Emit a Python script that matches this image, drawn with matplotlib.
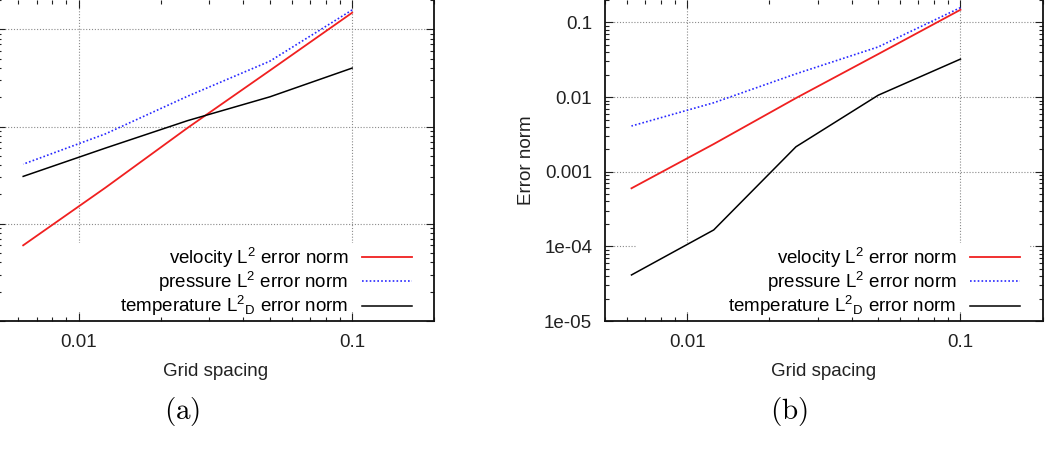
import numpy as np
import matplotlib
matplotlib.use('Agg')
import matplotlib.pyplot as plt
from matplotlib.ticker import FixedLocator, FixedFormatter, LogLocator, NullFormatter
from matplotlib.patches import Rectangle

# grid spacing h and the error norms
grid_spacing = [0.1, 0.05, 0.025, 0.0125, 0.00625]
velocity_err = [0.148, 0.0377, 0.0097, 0.00235, 0.0006]
pressure_err = [0.158, 0.047, 0.0205, 0.0084, 0.0041]
temperature_err_a = [0.0399, 0.0202, 0.0115, 0.0060, 0.00307]
temperature_err_b = [0.0323, 0.0106, 0.00216, 0.000166, 4.14e-5]

x_ticks = [0.01, 0.1]
x_labels = ['0.01', '0.1']
y_ticks_a = [1e-4, 1e-3, 1e-2, 0.1]
y_ticks_b = [1e-5, 1e-4, 1e-3, 1e-2, 0.1]
y_labels_b = ['1e-05', '1e-04', '0.001', '0.01', '0.1']

legend_labels = ['velocity L$^{2}$ error norm',
                 'pressure L$^{2}$ error norm',
                 'temperature L$^{2}{}_{D}$ error norm']

plt.rcParams['font.family'] = ['Liberation Sans', 'DejaVu Sans']
plt.rcParams['mathtext.default'] = 'regular'
FS = 13.5

W, H = 1049, 455
fig = plt.figure(figsize=(W / 100, H / 100), dpi=100)
ax_w = 437.7 / W
ax_h = 321 / H
ax_b = (H - 321) / H
ax_a = fig.add_axes([-3.3 / W, ax_b, ax_w, ax_h])
ax_bb = fig.add_axes([605 / W, ax_b, ax_w, ax_h])


def setup(ax, temp, yticks, ylabels, ylo):
    ax.set_xscale('log')
    ax.set_yscale('log')
    ax.plot(grid_spacing, velocity_err, color='#f02020', lw=1.3, label=legend_labels[0])
    ax.plot(grid_spacing, pressure_err, color='#2828ff', lw=1.2,
            linestyle=(0, (1, 1.3)), label=legend_labels[1])
    ax.plot(grid_spacing, temp, color='black', lw=1.1, label=legend_labels[2])
    ax.set_xlim(0.005, 0.2)
    ax.set_ylim(ylo, 0.2)

    ax.xaxis.set_major_locator(FixedLocator(x_ticks))
    ax.xaxis.set_major_formatter(FixedFormatter(x_labels))
    ax.yaxis.set_major_locator(FixedLocator(yticks))
    if ylabels is None:
        ax.yaxis.set_major_formatter(NullFormatter())
    else:
        ax.yaxis.set_major_formatter(FixedFormatter(ylabels))
    for axis in (ax.xaxis, ax.yaxis):
        axis.set_minor_locator(LogLocator(base=10, subs=np.arange(2, 10)))
        axis.set_minor_formatter(NullFormatter())

    ax.tick_params(which='both', direction='in', top=True, right=True,
                   width=0.8, colors='#202020', labelcolor='#222222', labelsize=FS)
    ax.tick_params(which='major', length=6)
    ax.tick_params(which='minor', length=3.2)
    ax.tick_params(axis='x', which='major', pad=9.3)
    ax.tick_params(axis='y', which='major', pad=9.2)
    ax.grid(True, which='major', color='#8a8a8a', lw=0.8, linestyle=(0, (1, 1.6)))
    for s in ax.spines.values():
        s.set_linewidth(1.3)
        s.set_color('#111111')
    ax.spines['top'].set_visible(False)

    ax.set_xlabel('Grid spacing', fontsize=FS, color='#222222')
    ax.xaxis.set_label_coords(0.5, -0.13)
    if ylabels is not None:
        ax.set_ylabel('Error norm', fontsize=FS, color='#222222')
        ax.yaxis.set_label_coords(-0.16, 0.5)

    # opaque key area that hides the grid behind the legend
    ax.add_patch(Rectangle((0.073, 0.028), 0.898, 0.214, transform=ax.transAxes,
                           facecolor='white', edgecolor='none', zorder=1.8))
    ax.legend(loc='lower right', bbox_to_anchor=(0.948, 0.009), borderaxespad=0,
              borderpad=0, markerfirst=False, frameon=False, fontsize=FS,
              handlelength=2.67, handletextpad=0.71, labelspacing=0.0)


# panel (a) is cropped on the left in the original, so its y labels are not shown
setup(ax_a, temperature_err_a, y_ticks_a, None, 1e-4)
setup(ax_bb, temperature_err_b, y_ticks_b, y_labels_b, 1e-5)

fig.text(182 / W, 1 - 412 / H, r'$\mathrm{(a)}$', math_fontfamily='cm',
         fontsize=21, ha='center', va='center')
fig.text(789 / W, 1 - 412 / H, r'$\mathrm{(b)}$', math_fontfamily='cm',
         fontsize=21, ha='center', va='center')

plt.savefig('out.png', dpi=100)
